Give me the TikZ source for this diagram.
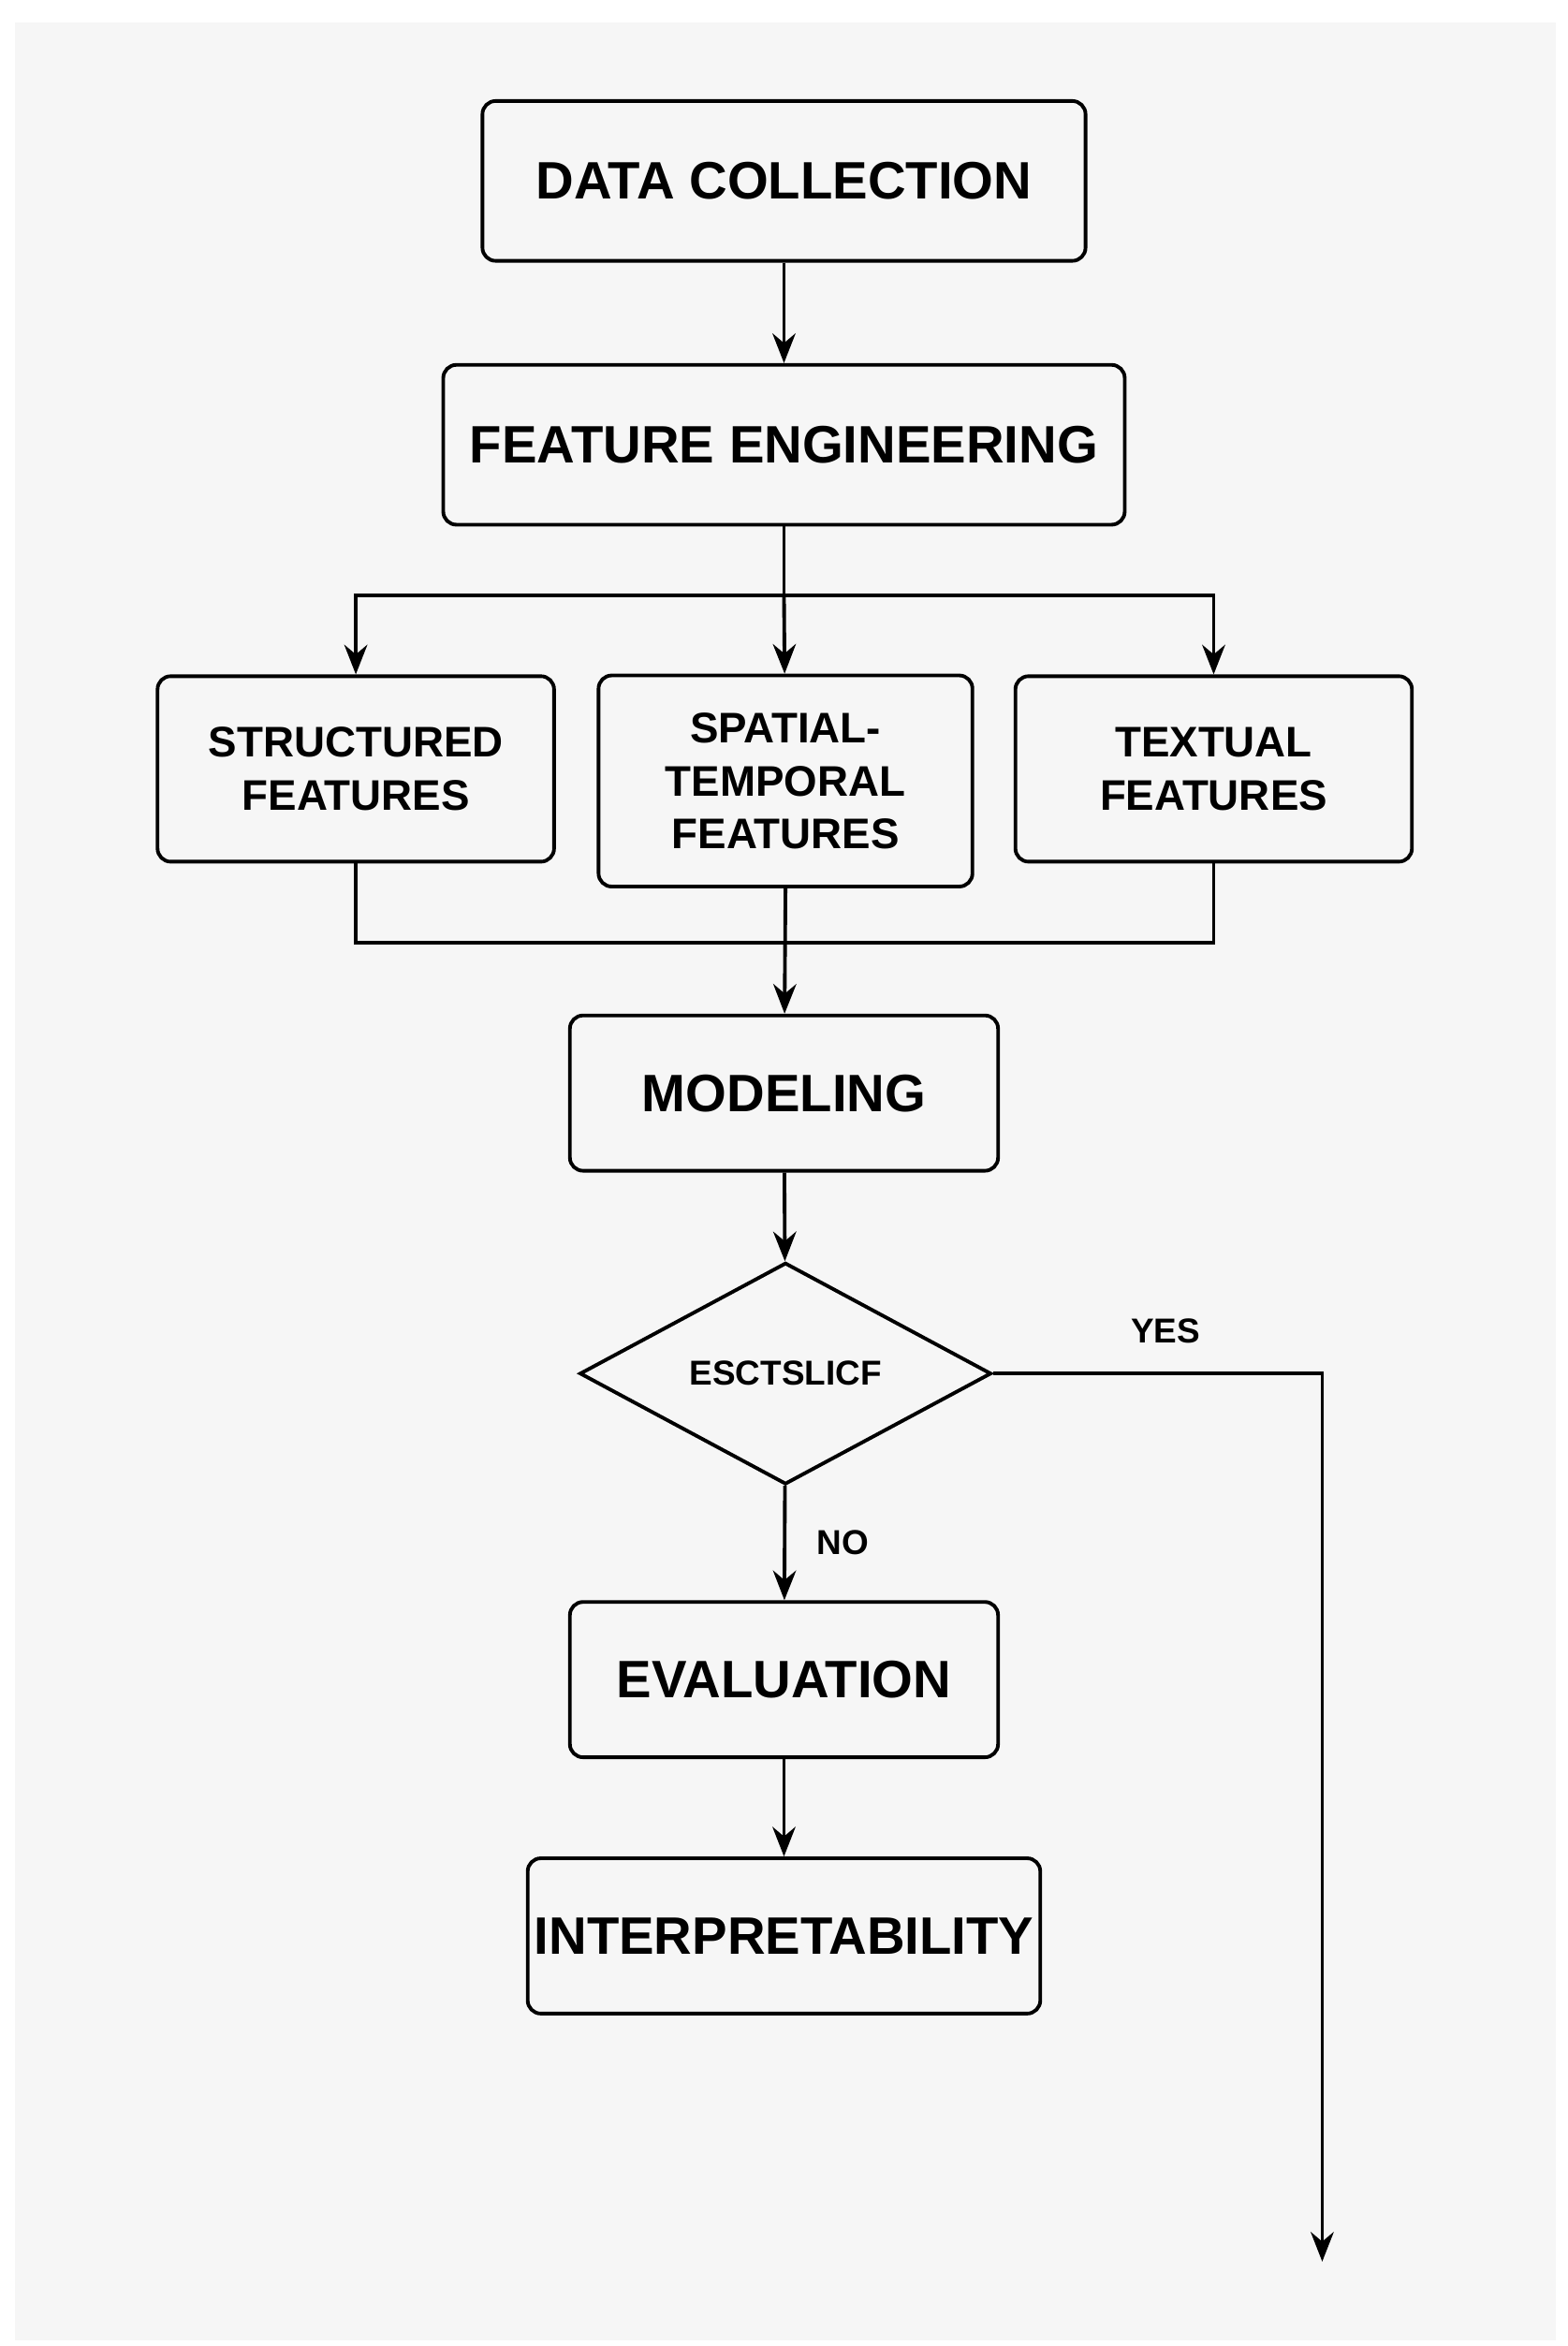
\documentclass[tikz,border=0pt]{standalone}
\usepackage{fontspec}
\setmainfont{Liberation Sans}
\usetikzlibrary{positioning,shapes.geometric,arrows.meta}
\definecolor{bggray}{HTML}{F6F6F6}

\begin{document}
\begin{tikzpicture}[x=0.0161cm, y=-0.0161cm, line width=1.1pt, >={Stealth[length=9pt,width=7pt]}]
  \tikzset{
    stage/.style={draw, rectangle, rounded corners=4pt, align=center, font=\fontsize{16}{19}\selectfont\bfseries, inner sep=2pt},
    feature/.style={draw, rectangle, rounded corners=4pt, align=center, font=\fontsize{13}{16}\selectfont\bfseries, minimum height=123*0.0161cm, inner sep=2pt},
    decision/.style={draw, diamond, aspect=1.86, minimum width=273*0.0161cm, minimum height=147*0.0161cm, inner sep=0pt, font=\fontsize{10.5}{12}\selectfont\bfseries},
    answer/.style={font=\fontsize{10.5}{12}\selectfont\bfseries}
  }

  \useasboundingbox (0,0) rectangle (1040,1556);
  \fill[white] (0,0) rectangle (1040,1556);
  \fill[bggray] (10,15) rectangle (1032,1552);

  \node[stage, minimum width=400*0.0161cm, minimum height=106*0.0161cm] (collect) at (520,120) {DATA COLLECTION};
  \node[stage, minimum width=452*0.0161cm, minimum height=106*0.0161cm] (engineer) at (520,295) {FEATURE ENGINEERING};

  \node[feature, minimum width=263*0.0161cm] (structured) at (236,510) {STRUCTURED\\FEATURES};
  \node[feature, minimum width=248*0.0161cm, minimum height=140*0.0161cm] (spatial) at (521,518) {SPATIAL-\\TEMPORAL\\FEATURES};
  \node[feature, minimum width=263*0.0161cm] (textual) at (805,510) {TEXTUAL\\FEATURES};

  \node[stage, minimum width=284*0.0161cm, minimum height=103*0.0161cm] (modeling) at (520,725) {MODELING};
  \node[decision] (check) at (521,911) {ESCTSLICF};
  \node[stage, minimum width=284*0.0161cm, minimum height=103*0.0161cm] (evaluation) at (520,1114) {EVALUATION};
  \node[stage, minimum width=340*0.0161cm, minimum height=103*0.0161cm] (interpret) at (520,1284) {INTERPRETABILITY};

  \coordinate (split) at (520,395);
  \coordinate (merge) at (520,625);
  \coordinate (exit) at (877,1500);

  \draw[->] (collect) -- (engineer);
  \draw (engineer) -- (split);
  \draw[->] (split) -| (structured);
  \draw[->] (split) -- (spatial);
  \draw[->] (split) -| (textual);
  \draw (structured) |- (merge);
  \draw (textual) |- (merge);
  \draw[->] (spatial.south) -- (modeling);
  \draw[->] (modeling) -- (check);
  \draw[->] (check) -- node[answer, right=6pt] {NO} (evaluation);
  \draw[->] (check.east) -| (exit);
  \node[answer] (yes) at (773,883) {YES};
  \draw[->] (evaluation) -- (interpret);
\end{tikzpicture}
\end{document}
